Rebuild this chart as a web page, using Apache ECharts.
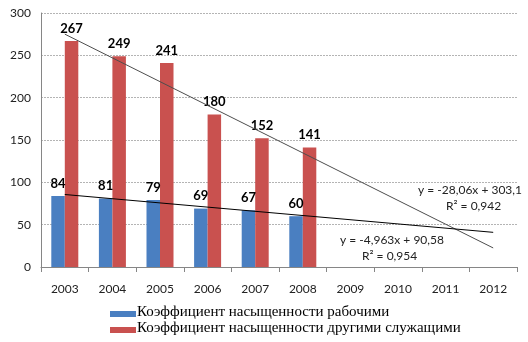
<!DOCTYPE html>
<html>
<head>
<meta charset="utf-8">
<script src="https://cdn.jsdelivr.net/npm/echarts@6/dist/echarts.min.js"></script>
<style>
html,body{margin:0;padding:0;background:#fff;}
#chart{width:528px;height:342px;}
</style>
</head>
<body>
<div id="chart"></div>
<script>
// Years shown on the category axis
const years = ['2003','2004','2005','2006','2007','2008','2009','2010','2011','2012'];
// Saturation coefficients (workers / other employees)
const workers = [84, 81, 79, 69, 67, 60];
const employees = [267, 249, 241, 180, 152, 141];
const seriesNames = ['Коэффициент насыщенности рабочими', 'Коэффициент насыщенности другими служащими'];
const yTicks = [0, 50, 100, 150, 200, 250, 300];
// Linear trend coefficients: y = slope * x + intercept, x = 1..10
const trendEmployees = { slope: -28.06, intercept: 303.1, r2: '0,942', text: 'y = -28,06x + 303,1' };
const trendWorkers = { slope: -4.963, intercept: 90.58, r2: '0,954', text: 'y = -4,963x + 90,58' };

const colors = ['#4a7fc1', '#c9514f'];

function trendData(t) {
  // endpoints only; the line joins the first and last category centres
  return years.map((_, i) => (i === 0 || i === years.length - 1) ? +(t.slope * (i + 1) + t.intercept).toFixed(3) : null);
}

const chart = echarts.init(document.getElementById('chart'));
const font = 'Lato, "Open Sans", sans-serif';
const serif = '"Liberation Serif", "Times New Roman", serif';
const labelStyle = { show: true, position: 'top', distance: 6, fontFamily: font, fontSize: 13, fontWeight: 'bold', color: '#000' };

// Two-row legend at the bottom: colour swatch + series name
function legendItem(i, y) {
  return [
    { type: 'rect', left: 110, top: y - 3, shape: { width: 26, height: 6 }, style: { fill: colors[i] } },
    { type: 'text', left: 137, top: y - 9, style: { text: seriesNames[i], fontFamily: serif, fontSize: 15, fill: '#000' } }
  ];
}

chart.setOption({
  animation: false,
  grid: { left: 41, right: 11, top: 13, bottom: 75 },
  xAxis: {
    type: 'category', data: years,
    axisLine: { lineStyle: { color: '#868686' } },
    axisTick: { show: true, length: 5, lineStyle: { color: '#868686' } },
    axisLabel: { fontFamily: font, fontSize: 12, color: '#222', margin: 16 }
  },
  yAxis: {
    type: 'value', min: yTicks[0], max: yTicks[yTicks.length - 1], interval: 50,
    axisLine: { show: true, lineStyle: { color: '#868686' } },
    axisTick: { show: false },
    axisLabel: { fontFamily: font, fontSize: 12, color: '#222', margin: 10 },
    splitLine: { lineStyle: { color: '#b4b4b4', type: [2, 1] } }
  },
  series: [
    { name: seriesNames[0], type: 'bar', data: workers, barWidth: 13.5, barGap: '0%',
      itemStyle: { color: colors[0] }, label: labelStyle },
    { name: seriesNames[1], type: 'bar', data: employees, barWidth: 13.5,
      itemStyle: { color: colors[1] }, label: labelStyle },
    { name: 'trend1', type: 'line', data: trendData(trendEmployees), connectNulls: true, symbol: 'none',
      lineStyle: { color: '#4d4d4d', width: 1 }, z: 5 },
    { name: 'trend2', type: 'line', data: trendData(trendWorkers), connectNulls: true, symbol: 'none',
      lineStyle: { color: '#000', width: 1 }, z: 5 }
  ],
  graphic: [
    { type: 'text', right: 6, top: 184, style: { text: trendEmployees.text, fontFamily: font, fontSize: 12, fill: '#222' } },
    { type: 'text', left: 446, top: 200, style: { text: 'R² = ' + trendEmployees.r2, fontFamily: font, fontSize: 12, fill: '#222' } },
    { type: 'text', left: 340, top: 234, style: { text: trendWorkers.text, fontFamily: font, fontSize: 12, fill: '#222' } },
    { type: 'text', left: 362, top: 250, style: { text: 'R² = ' + trendWorkers.r2, fontFamily: font, fontSize: 12, fill: '#222' } }
  ].concat(legendItem(0, 314), legendItem(1, 330))
});
</script>
</body>
</html>
